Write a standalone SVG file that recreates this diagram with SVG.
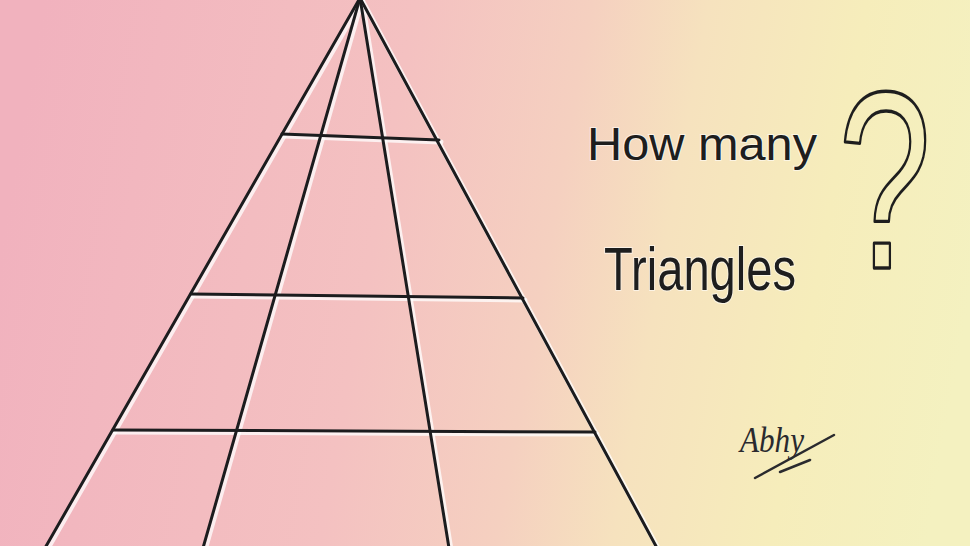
<svg xmlns="http://www.w3.org/2000/svg" width="970" height="546" viewBox="0 0 970 546">
  <defs>
    <linearGradient id="bg" x1="0" y1="0.45" x2="1" y2="0.55">
      <stop offset="0" stop-color="#f1b2be"/>
      <stop offset="0.38" stop-color="#f4c1c1"/>
      <stop offset="0.56" stop-color="#f5d0c0"/>
      <stop offset="0.68" stop-color="#f6e2be"/>
      <stop offset="0.84" stop-color="#f6edbb"/>
      <stop offset="1" stop-color="#f4f1c0"/>
    </linearGradient>
  </defs>
  <style>
    .halo line { stroke: #ffffff; stroke-width: 5; stroke-opacity: 0.75; stroke-linecap: round; }
    .ink line { stroke: #1c1c1e; stroke-width: 3; stroke-linecap: round; }
    .hand { font-family: "Liberation Sans", "DejaVu Sans", sans-serif; fill: #1e1e1e; stroke: #ffffff; stroke-width: 2; stroke-opacity: 0.6; paint-order: stroke; }
    .sig { font-family: "Liberation Serif", "DejaVu Serif", serif; font-style: italic; fill: #2a2a2e; }
    .sigline { stroke: #2a2a2e; stroke-width: 2.5; stroke-linecap: round; fill: none; }
  </style>
  <rect x="0" y="0" width="970" height="546" fill="url(#bg)"/>

  <g id="pyramid">
    <g class="halo" transform="translate(2,2)">
      <line x1="360" y1="-2" x2="45" y2="548"/>
      <line x1="360" y1="-2" x2="203" y2="548"/>
      <line x1="360" y1="-2" x2="449" y2="548"/>
      <line x1="360" y1="-2" x2="657" y2="548"/>
      <line x1="282" y1="134" x2="439" y2="140"/>
      <line x1="191" y1="294" x2="523" y2="298"/>
      <line x1="113" y1="430" x2="595" y2="432"/>
    </g>
    <g class="ink">
      <line x1="360" y1="-2" x2="45" y2="548"/>
      <line x1="360" y1="-2" x2="203" y2="548"/>
      <line x1="360" y1="-2" x2="449" y2="548"/>
      <line x1="360" y1="-2" x2="657" y2="548"/>
      <line x1="282" y1="134" x2="439" y2="140"/>
      <line x1="191" y1="294" x2="523" y2="298"/>
      <line x1="113" y1="430" x2="595" y2="432"/>
    </g>
  </g>

  <g id="question">
    <text class="hand" x="587" y="160" font-size="46" textLength="230" lengthAdjust="spacingAndGlyphs">How many</text>
    <text class="hand" x="604" y="290" font-size="62" textLength="192" lengthAdjust="spacingAndGlyphs">Triangles</text>
    <text transform="translate(838,268) scale(0.7,1.05)" font-family="Liberation Sans, DejaVu Sans, sans-serif" font-size="240" fill="none" stroke="#1e1e1e" stroke-width="3.2" stroke-linejoin="round">?</text>
  </g>

  <g id="signature">
    <text class="sig" x="740" y="452" font-size="36" textLength="64" lengthAdjust="spacingAndGlyphs">Abhy</text>
    <line class="sigline" x1="755" y1="478" x2="834" y2="435"/>
    <line class="sigline" x1="780" y1="472" x2="810" y2="460"/>
  </g>
</svg>
